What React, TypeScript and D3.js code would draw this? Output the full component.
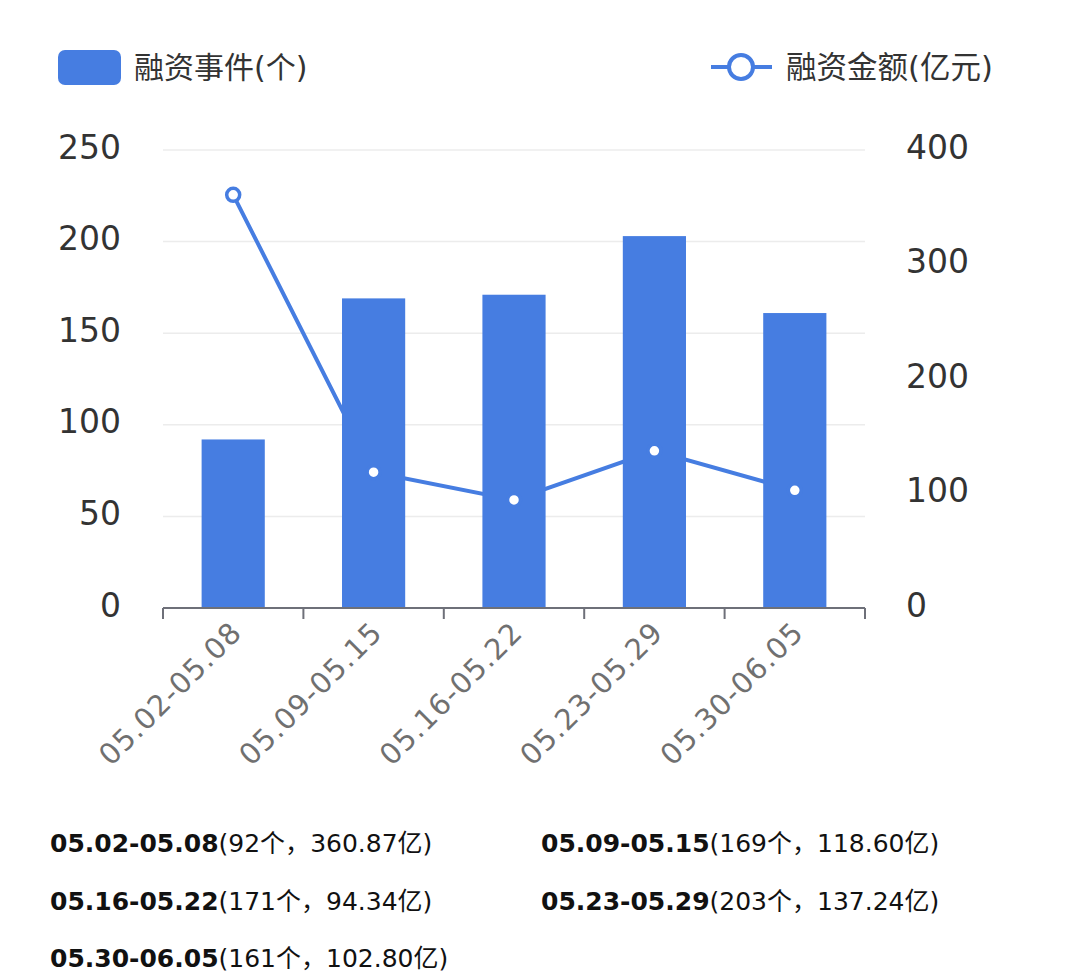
import React from "react";
import * as d3 from "d3";

const categories = ["05.02-05.08", "05.09-05.15", "05.16-05.22", "05.23-05.29", "05.30-06.05"];
const eventCounts = [92, 169, 171, 203, 161];
const amounts = [360.87, 118.6, 94.34, 137.24, 102.8];
const leftTicks = [0, 50, 100, 150, 200, 250];
const rightTicks = [0, 100, 200, 300, 400];
const legendBar = "融资事件(个)";
const legendLine = "融资金额(亿元)";
const amountLabels = ["360.87", "118.60", "94.34", "137.24", "102.80"];

const W = 1080;
const H = 976;
const BLUE = "#467de1";
const FONT = "'DejaVu Sans', 'Noto Sans CJK SC', sans-serif";

export default function App() {
  const left = 163, right = 865, top = 150, bottom = 608;
  const x = d3.scaleBand<string>().domain(categories).range([left, right]).paddingInner(0).paddingOuter(0);
  const yL = d3.scaleLinear().domain([0, 250]).range([bottom, top]);
  const yR = d3.scaleLinear().domain([0, 400]).range([bottom, top]);
  const barW = x.bandwidth() * 0.45;
  const cx = (c: string) => (x(c) as number) + x.bandwidth() / 2;
  const line = d3
    .line<number>()
    .x((_, i) => cx(categories[i]))
    .y((d) => yR(d));
  const boundaries = [...categories.map((c) => x(c) as number), right];

  return (
    <svg width={W} height={H} style={{ position: "absolute", left: 0, top: 0, background: "#fff" }} fontFamily={FONT}>
      {/* legend */}
      <rect x={58} y={50} width={63} height={35} rx={7} fill={BLUE} />
      <text x={134} y={78} fontSize={30} fill="#333">{legendBar}</text>
      <line x1={711} x2={772} y1={67} y2={67} stroke={BLUE} strokeWidth={4} />
      <circle cx={741} cy={67} r={12} fill="#fff" stroke={BLUE} strokeWidth={4} />
      <text x={786} y={78} fontSize={30.5} fill="#333">{legendLine}</text>

      {/* grid */}
      {leftTicks.filter((t) => t > 0).map((t) => (
        <line key={t} x1={left} x2={right} y1={yL(t)} y2={yL(t)} stroke="#ececec" strokeWidth={1.5} />
      ))}

      {/* axis labels */}
      {leftTicks.map((t) => (
        <text key={t} x={121} y={yL(t)} dy="0.26em" textAnchor="end" fontSize={33} fill="#333">{t}</text>
      ))}
      {rightTicks.map((t) => (
        <text key={t} x={906} y={yR(t)} dy="0.26em" textAnchor="start" fontSize={33} fill="#333">{t}</text>
      ))}

      {/* line behind bars */}
      <path d={line(amounts) || ""} fill="none" stroke={BLUE} strokeWidth={4} />

      {/* bars */}
      {categories.map((c, i) => (
        <rect key={c} x={cx(c) - barW / 2} y={yL(eventCounts[i])} width={barW} height={bottom - yL(eventCounts[i])} fill={BLUE} />
      ))}

      {/* symbols */}
      {categories.map((c, i) => (
        <circle key={c} cx={cx(c)} cy={yR(amounts[i])} r={6.5} fill="#fff" stroke={BLUE} strokeWidth={3.5} />
      ))}

      {/* x axis */}
      <line x1={left} x2={right} y1={bottom} y2={bottom} stroke="#6e7079" strokeWidth={2} />
      {boundaries.map((b, i) => (
        <line key={i} x1={b} x2={b} y1={bottom} y2={bottom + 11} stroke="#6e7079" strokeWidth={2} />
      ))}
      {categories.map((c) => (
        <text key={c} transform={`translate(${cx(c) - 4},${bottom + 12}) rotate(-45)`} textAnchor="end" dy="0.7em" fontSize={29} letterSpacing={1} fill="#707070">{c}</text>
      ))}

      {/* summary */}
      {categories.map((c, i) => {
        const col = i % 2;
        const row = Math.floor(i / 2);
        return (
          <text key={c} x={col === 0 ? 50 : 541} y={852 + row * 57.5} fontSize={25} fill="#111">
            <tspan fontWeight="bold">{c}</tspan>
            <tspan>({eventCounts[i]}个，{amountLabels[i]}亿)</tspan>
          </text>
        );
      })}
    </svg>
  );
}
